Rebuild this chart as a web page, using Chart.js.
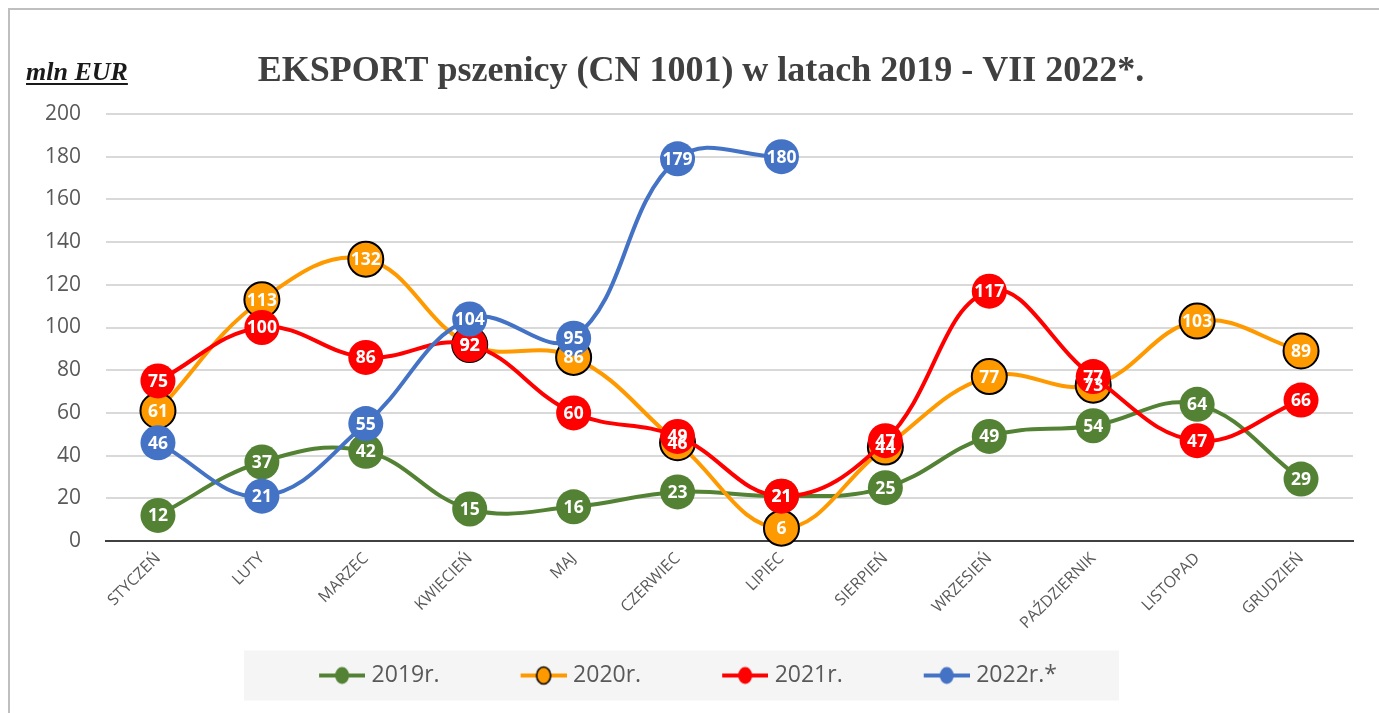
<!DOCTYPE html>
<html>
<head>
<meta charset="utf-8">
<script src="https://cdn.jsdelivr.net/npm/chart.js@4/dist/chart.umd.min.js"></script>
<style>
  html, body { margin: 0; padding: 0; background: #ffffff; }
  #wrap { width: 1379px; height: 713px; position: relative; }
</style>
</head>
<body>
<div id="wrap"><canvas id="c" width="1379" height="713"></canvas></div>
<script>
// ---- DATA ----
const categories = ['STYCZEŃ', 'LUTY', 'MARZEC', 'KWIECIEŃ', 'MAJ', 'CZERWIEC', 'LIPIEC', 'SIERPIEŃ', 'WRZESIEŃ', 'PAŹDZIERNIK', 'LISTOPAD', 'GRUDZIEŃ'];
const values2019 = [12, 37, 42, 15, 16, 23, 21, 25, 49, 54, 64, 29];
const values2020 = [61, 113, 132, 92, 86, 46, 6, 44, 77, 73, 103, 89];
const values2021 = [75, 100, 86, 92, 60, 49, 21, 47, 117, 77, 47, 66];
const values2022 = [46, 21, 55, 104, 95, 179, 180, null, null, null, null, null];
const seriesNames = ['2019r.', '2020r.', '2021r.', '2022r.*'];
const yTicks = [0, 20, 40, 60, 80, 100, 120, 140, 160, 180, 200];
const titleText = 'EKSPORT pszenicy (CN 1001) w latach 2019 - VII 2022*.';
const unitText = 'mln EUR';

const COLORS = ['#548235', '#FF9900', '#FF0000', '#4472C4'];
const BORDERS = [null, '#000000', null, null];

// legend icon: transparent left margin + line with marker
const ICON_W = 126, ICON_A = 80, BOX_W = 116;
function makeIcon(color, border) {
  const c = document.createElement('canvas');
  c.width = ICON_W; c.height = 24;
  const g = c.getContext('2d');
  g.strokeStyle = color; g.lineWidth = 4; g.lineCap = 'butt';
  g.beginPath(); g.moveTo(ICON_A, 12); g.lineTo(ICON_W, 12); g.stroke();
  g.beginPath(); g.ellipse((ICON_A + ICON_W) / 2, 12, 7, 8.5, 0, 0, Math.PI * 2);
  g.fillStyle = color; g.fill();
  if (border) { g.strokeStyle = border; g.lineWidth = 1.6; g.stroke(); }
  return c;
}
const icons = COLORS.map((c, i) => makeIcon(c, BORDERS[i]));
const VIS_OFF = ICON_A - (ICON_W - BOX_W) / 2; // visible icon start relative to item left

function ds(label, data, i, order) {
  return {
    label, data, order,
    borderColor: COLORS[i],
    backgroundColor: COLORS[i],
    borderWidth: 4,
    pointRadius: 17.5,
    pointHoverRadius: 17.5,
    pointBackgroundColor: COLORS[i],
    pointBorderColor: BORDERS[i] || COLORS[i],
    pointBorderWidth: BORDERS[i] ? 2 : 0,
    tension: 0.4,
    fill: false,
    clip: false,
    spanGaps: false
  };
}

const framePlugin = {
  id: 'frame',
  beforeDraw(chart) {
    const ctx = chart.ctx;
    ctx.save();
    ctx.fillStyle = '#ffffff';
    ctx.fillRect(0, 0, chart.width, chart.height);
    ctx.strokeStyle = '#BFBFBF';
    ctx.lineWidth = 2;
    ctx.beginPath();
    ctx.moveTo(9, chart.height);
    ctx.lineTo(9, 9);
    ctx.lineTo(chart.width, 9);
    ctx.stroke();
    // legend background
    const lg = chart.legend;
    if (lg && lg.legendHitBoxes && lg.legendHitBoxes.length) {
      const hb = lg.legendHitBoxes;
      const first = hb[0], last = hb[hb.length - 1];
      const left = first.left + VIS_OFF - 75;
      const right = last.left + last.width + 62;
      const cy = first.top + first.height / 2;
      ctx.fillStyle = '#F5F5F5';
      ctx.fillRect(left, cy - 25, right - left, 50);
    }
    // title
    ctx.fillStyle = '#404040';
    ctx.font = 'bold 36px "Liberation Serif", "Times New Roman", serif';
    ctx.textAlign = 'center';
    ctx.textBaseline = 'alphabetic';
    ctx.fillText(titleText, 701, 81);
    // unit label
    ctx.fillStyle = '#1a1a1a';
    ctx.font = 'italic bold 26px "Liberation Serif", "Times New Roman", serif';
    ctx.textAlign = 'left';
    ctx.fillText(unitText, 26, 80);
    const w = ctx.measureText(unitText).width;
    ctx.fillRect(26, 83, w, 2);
    ctx.restore();
  }
};

const labelPlugin = {
  id: 'pointLabels',
  afterDatasetsDraw(chart) {
    const ctx = chart.ctx;
    ctx.save();
    ctx.font = 'bold 17.5px "Open Sans", "Liberation Sans", sans-serif';
    ctx.textAlign = 'center';
    ctx.textBaseline = 'middle';
    ctx.fillStyle = '#ffffff';
    chart.data.datasets.forEach((d, di) => {
      const meta = chart.getDatasetMeta(di);
      meta.data.forEach((pt, i) => {
        const v = d.data[i];
        if (v === null || v === undefined) return;
        ctx.fillText(String(v), pt.x, pt.y + 1);
      });
    });
    ctx.restore();
  }
};

new Chart(document.getElementById('c'), {
  type: 'line',
  data: {
    labels: categories,
    datasets: [
      ds(seriesNames[0], values2019, 0, 4),
      ds(seriesNames[1], values2020, 1, 3),
      ds(seriesNames[2], values2021, 2, 2),
      ds(seriesNames[3], values2022, 3, 1)
    ]
  },
  options: {
    responsive: false,
    animation: false,
    events: [],
    layout: { padding: { top: 114, left: -52, right: 26, bottom: 16 } },
    scales: {
      x: {
        offset: true,
        grid: { display: false, drawTicks: false },
        border: { display: true, color: '#404040', width: 2 },
        ticks: {
          minRotation: 45, maxRotation: 45, autoSkip: false,
          padding: 8,
          color: '#595959',
          font: { family: '"Open Sans", "Liberation Sans", sans-serif', size: 16 }
        },
        afterFit(axis) { axis.height = 117; }
      },
      y: {
        min: 0, max: 200,
        afterBuildTicks(axis) { axis.ticks = yTicks.map(v => ({ value: v })); },
        grid: { color: '#D9D9D9', lineWidth: 2, drawTicks: false },
        border: { display: false },
        ticks: {
          padding: 25,
          color: '#595959',
          font: { family: '"Open Sans", "Liberation Sans", sans-serif', size: 21 }
        },
        afterFit(axis) { axis.width = 158; }
      }
    },
    plugins: {
      title: { display: false },
      tooltip: { enabled: false },
      legend: {
        display: true,
        position: 'bottom',
        labels: {
          usePointStyle: true,
          pointStyleWidth: BOX_W,
          padding: 6,
          color: '#595959',
          font: { family: '"Open Sans", "Liberation Sans", sans-serif', size: 23 },
          sort: (a, b) => a.datasetIndex - b.datasetIndex,
          generateLabels(chart) {
            const items = Chart.defaults.plugins.legend.labels.generateLabels(chart);
            items.forEach(it => { it.pointStyle = icons[it.datasetIndex]; });
            return items;
          }
        }
      }
    }
  },
  plugins: [framePlugin, labelPlugin]
});
</script>
</body>
</html>
